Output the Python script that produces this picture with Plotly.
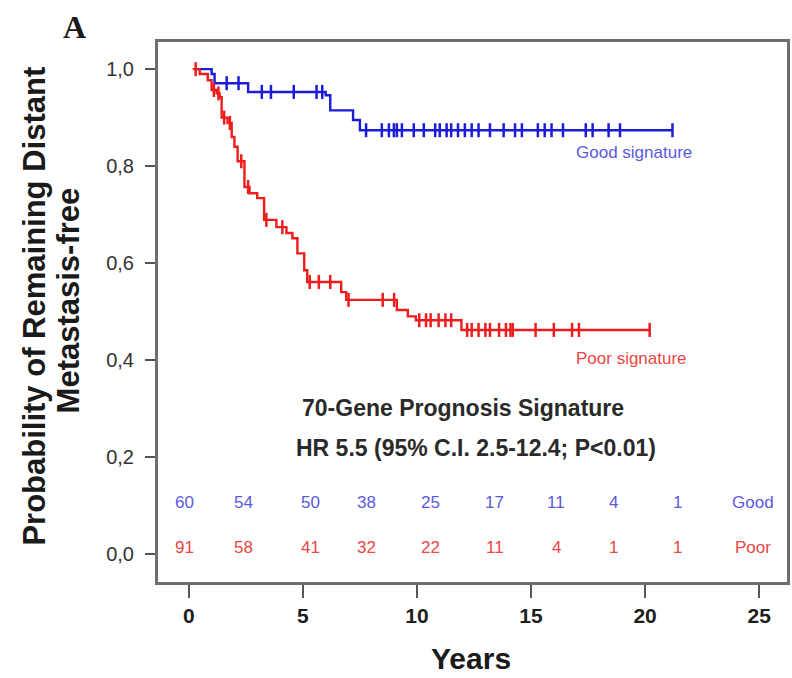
import plotly.graph_objects as go

# Kaplan-Meier step data (time in years, survival probability)
good_times = [0.25, 1.0, 1.13, 2.6, 6.0, 6.2, 7.2, 7.5, 21.2]
good_surv = [1.0, 0.99, 0.971, 0.953, 0.946, 0.915, 0.895, 0.874, 0.874]
good_censor = [1.66, 2.18, 3.2, 3.6, 4.6, 5.6, 5.85, 7.77, 8.46, 8.77, 8.99, 9.12,
               9.34, 9.86, 10.3, 10.8, 11.0, 11.3, 11.5, 11.8, 12.1, 12.4, 12.7,
               13.2, 13.8, 14.3, 14.6, 15.3, 15.6, 15.9, 16.4, 17.4, 17.7, 18.4,
               18.9, 21.2]

poor_times = [0.17, 0.48, 0.83, 1.0, 1.22, 1.35, 1.44, 1.70, 1.88, 2.0, 2.14, 2.44,
              2.66, 3.0, 3.3, 3.84, 4.28, 4.54, 4.76, 5.06, 5.19, 6.68, 6.9, 9.12,
              9.6, 9.95, 11.95, 20.2]
poor_surv = [1.0, 0.99, 0.977, 0.957, 0.95, 0.942, 0.90, 0.889, 0.86, 0.84, 0.81,
             0.757, 0.744, 0.734, 0.689, 0.674, 0.662, 0.651, 0.62, 0.585, 0.561,
             0.54, 0.524, 0.503, 0.49, 0.482, 0.462, 0.462]
poor_censor = [0.3, 1.1, 1.3, 1.55, 1.8, 2.3, 2.6, 3.4, 4.1, 5.3, 5.7, 6.2, 7.0,
               8.5, 9.0, 10.1, 10.4, 10.6, 10.95, 11.25, 11.5, 12.2, 12.4, 12.7,
               13.0, 13.2, 13.6, 13.9, 14.1, 14.2, 15.2, 16.0, 16.8, 17.1, 20.2]

# Numbers at risk
risk_x = [-0.17, 2.4, 5.32, 7.81, 10.6, 13.4, 16.1, 18.6, 21.4]
good_risk = [60, 54, 50, 38, 25, 17, 11, 4, 1]
poor_risk = [91, 58, 41, 32, 22, 11, 4, 1, 1]

x_ticks = [0, 5, 10, 15, 20, 25]
y_ticks = [0.0, 0.2, 0.4, 0.6, 0.8, 1.0]
y_ticktext = ["0,0", "0,2", "0,4", "0,6", "0,8", "1,0"]

BLUE = "#1c1cd6"
RED = "#ee1c1c"
BLUE_TXT = "#5a5ae0"
RED_TXT = "#ea4646"
DARK = "#1a1a1a"
FONT = "Liberation Sans, Arial, sans-serif"


def step_at(times, surv, t):
    val = surv[0]
    for ti, si in zip(times, surv):
        if ti <= t:
            val = si
    return val


fig = go.Figure()
for times, surv, cens, col in [(good_times, good_surv, good_censor, BLUE),
                               (poor_times, poor_surv, poor_censor, RED)]:
    fig.add_trace(go.Scatter(x=times, y=surv, mode="lines",
                             line=dict(color=col, width=2.4, shape="hv"),
                             hoverinfo="skip"))
    fig.add_trace(go.Scatter(x=cens, y=[step_at(times, surv, t) for t in cens],
                             mode="markers",
                             marker=dict(symbol="line-ns", size=10,
                                         line=dict(color=col, width=2.5)),
                             hoverinfo="skip"))


def label(x, y, text, size, color, ref="data", **kw):
    r = "x" if ref == "data" else "paper"
    return dict(x=x, y=y, xref=r, yref="y" if ref == "data" else "paper",
                text=text, showarrow=False, xanchor="center", yanchor="middle",
                font=dict(family=kw.pop("family", FONT), size=size, color=color), **kw)


ann = []
for xv, g, p in zip(risk_x, good_risk, poor_risk):
    ann.append(label(xv, 0.105, str(g), 17, BLUE_TXT))
    ann.append(label(xv, 0.014, str(p), 17, RED_TXT))
ann.append(label(24.75, 0.105, "Good", 17, BLUE_TXT))
ann.append(label(24.75, 0.014, "Poor", 17, RED_TXT))
ann.append(label(19.5, 0.829, "Good signature", 17, BLUE_TXT))
ann.append(label(19.4, 0.404, "Poor signature", 17, RED_TXT))
ann.append(label(12.0, 0.30, "<b>70-Gene Prognosis Signature</b>", 23, "#2a2a2a"))
ann.append(label(12.6, 0.219, "<b>HR 5.5 (95% C.I. 2.5-12.4; P<0.01)</b>", 23, "#2a2a2a"))

# Panel letter and axis titles placed in pixel terms on the paper
W, H = 792, 678
L, R, T, B = 158, 2, 42, 96
pw, ph = W - L - R, H - T - B


def px(xp):
    return (xp - L) / pw


def py(yp):
    return (H - B - yp) / ph


ann.append(label(px(74), py(27), "<b>A</b>", 32, DARK, ref="paper",
                 family="Liberation Serif, Times New Roman, serif"))
ann.append(label(px(33), py(306), "<b>Probability of Remaining Distant</b>", 31, DARK,
                 ref="paper", textangle=-90))
ann.append(label(px(68), py(300), "<b>Metastasis-free</b>", 31, DARK,
                 ref="paper", textangle=-90))
ann.append(label(px(472), py(658), "<b>Years</b>", 30, DARK, ref="paper"))

fig.update_layout(
    width=W, height=H,
    margin=dict(l=L, r=R, t=T, b=B),
    plot_bgcolor="white", paper_bgcolor="white",
    showlegend=False,
    annotations=ann,
)
fig.update_xaxes(range=[-1.35, 26.22], tickvals=x_ticks, ticks="outside", ticklen=13,
                 tickwidth=2, tickcolor="#555555", showline=True, linecolor="#6e6e6e",
                 linewidth=3, mirror=True, showgrid=False, zeroline=False,
                 tickfont=dict(family=FONT, size=21, color="#1e1e1e", weight="bold"),
                 ticklabelstandoff=0)
fig.update_yaxes(range=[-0.058, 1.056], tickvals=y_ticks, ticktext=y_ticktext,
                 ticks="outside", ticklen=10, tickwidth=2, tickcolor="#555555",
                 showline=True, linecolor="#6e6e6e", linewidth=3, mirror=True,
                 showgrid=False, zeroline=False,
                 tickfont=dict(family=FONT, size=20, color="#333333"),
                 ticklabelstandoff=7)

fig.write_html("out.html")
